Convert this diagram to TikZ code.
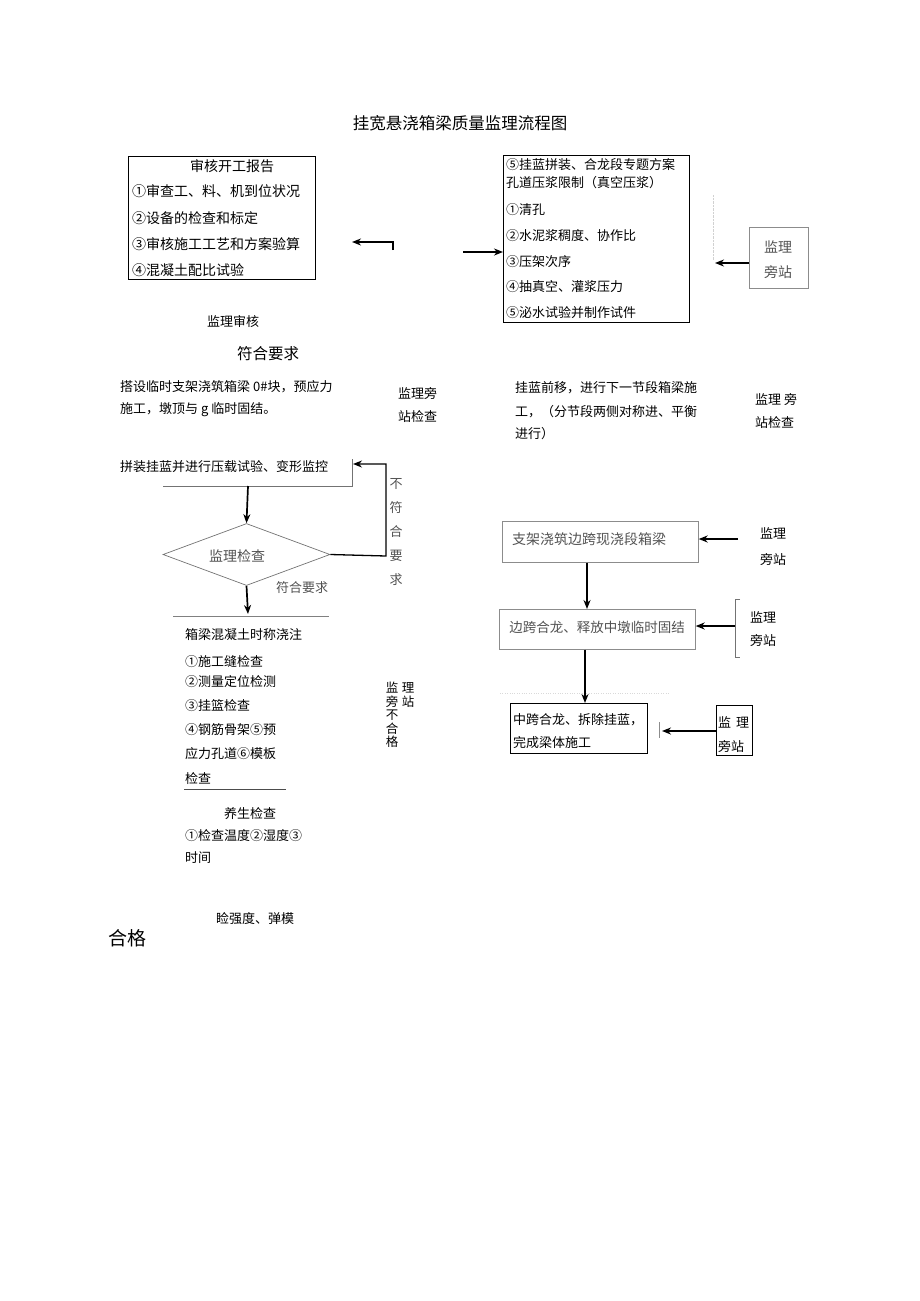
\documentclass[tikz,border=0pt]{standalone}
\usepackage{fontspec}
\setmainfont{Noto Sans CJK SC}
\usetikzlibrary{arrows.meta,shapes.geometric,positioning}

\begin{document}
\begin{tikzpicture}[x=1pt, y=-1pt,
    txt/.style={inner sep=0pt, anchor=west, font=\fontsize{13}{15}\selectfont},
    ctxt/.style={txt, anchor=center},
    frame/.style={draw, line width=0.7pt, inner sep=0pt, anchor=north west},
    gframe/.style={frame, draw=black!45},
    grey/.style={text=black!68},
    arrow/.style={-{Stealth[length=9pt,width=7pt]}, line width=1.7pt}
]
\useasboundingbox (0,0) rectangle (920,1301);

% Title
\node[ctxt, font=\fontsize{16.5}{18}\selectfont] (title) at (460,123) {挂宽悬浇箱梁质量监理流程图};

% Report box
\node[frame, minimum width=187pt, minimum height=123pt] (report) at (128,156) {};
\node[ctxt, font=\fontsize{14}{16}\selectfont] (reporthd) at (232,166) {审核开工报告};
\node[txt, font=\fontsize{14}{16}\selectfont] (r1) at (132,191) {①审查工、料、机到位状况};
\node[txt, font=\fontsize{14}{16}\selectfont] (r2) at (132,218) {②设备的检查和标定};
\node[txt, font=\fontsize{14}{16}\selectfont] (r3) at (132,244) {③审核施工工艺和方案验算};
\node[txt, font=\fontsize{14}{16}\selectfont] (r4) at (132,270) {④混凝土配比试验};
\node[ctxt] (audit) at (233,322) {监理审核};

\coordinate (backs) at (393,250);
\coordinate (backe) at (352,242);
\draw[arrow] (backs) |- (backe);

% Grouting box
\node[frame, minimum width=186pt, minimum height=167pt] (grout) at (503,155) {};
\node[txt] (g0) at (506,165) {⑤挂蓝拼装、合龙段专题方案};
\node[txt] (g1) at (506,183) {孔道压浆限制（真空压浆）};
\node[txt] (g2) at (506,210) {①清孔};
\node[txt] (g3) at (506,236) {②水泥浆稠度、协作比};
\node[txt] (g4) at (506,262) {③压架次序};
\node[txt] (g5) at (506,287) {④抽真空、灌浆压力};
\node[txt] (g6) at (506,313) {⑤泌水试验并制作试件};

\coordinate (ins) at (463,252);
\draw[arrow] (ins) -- (ins -| grout.west);

\coordinate (fa) at (713,195);
\coordinate (fb) at (713,260);
\draw[black!18, densely dotted] (fa) -- (fb);

\node[gframe, minimum width=59pt, minimum height=61pt] (sup1) at (749,227) {};
\node[ctxt, grey, font=\fontsize{14}{16}\selectfont] (sup1a) at (778,247) {监理};
\node[ctxt, grey, font=\fontsize{14}{16}\selectfont] (sup1b) at (778,272) {旁站};
\coordinate (sup1e) at (715,263);
\draw[arrow] (sup1.west |- sup1e) -- (sup1e);

% Middle texts
\node[ctxt, font=\fontsize{15.5}{17}\selectfont] (okA) at (268,354) {符合要求};
\node[txt] (zero1) at (120,387) {搭设临时支架浇筑箱梁 0\#块，预应力};
\node[txt] (zero2) at (120,410) {施工，墩顶与 g 临时固结。};
\node[txt] (insp1) at (398,393) {监理旁};
\node[txt] (insp2) at (398,417) {站检查};
\node[txt] (move1) at (515,388) {挂蓝前移，进行下一节段箱梁施};
\node[txt] (move2) at (515,412) {工，（分节段两侧对称进、平衡};
\node[txt] (move3) at (515,434) {进行）};
\node[txt] (insp3) at (755,399) {监理 旁};
\node[txt] (insp4) at (755,423) {站检查};

% Hanging basket test and check
\node[txt] (load) at (120,467) {拼装挂蓝并进行压载试验、变形监控};
\coordinate (la) at (163,486);
\coordinate (lb) at (352,486);
\coordinate (lc) at (352,459);
\draw[black!55, line width=0.7pt] (la) -- (lb) -- (lc);

\node[draw, black!55, line width=0.7pt, diamond, inner sep=0pt,
      minimum width=167pt, minimum height=62pt] (check) at (246.5,554.5) {};
\node[ctxt, grey, font=\fontsize{14}{16}\selectfont] (checktx) at (237,556) {监理检查};
\coordinate (loadout) at (248,486);
\draw[arrow] (loadout) -- (check.north);

\coordinate (retA) at (386,556);
\coordinate (retB) at (353,464);
\draw[arrow, line width=1.3pt] (check.east) -- (retA) |- (retB);
\node[ctxt, grey, align=center, font=\fontsize{13}{24}\selectfont] (fail) at (396,532)
    {不\\符\\合\\要\\求};
\node[ctxt, grey] (okB) at (302,588) {符合要求};

\coordinate (castin) at (248,614);
\draw[arrow] (check.south) -- (castin);
\coordinate (ca) at (173,616);
\coordinate (cb) at (329,616);
\draw[black!50, line width=0.8pt] (ca) -- (cb);

% Casting items
\node[txt] (cast) at (185,635) {箱梁混凝土时称浇注};
\node[txt] (c1) at (185,662) {①施工缝检查};
\node[txt] (c2) at (185,682) {②测量定位检测};
\node[txt] (c3) at (185,706) {③挂篮检查};
\node[txt] (c4) at (185,730) {④钢筋骨架⑤预};
\node[txt] (c5) at (185,754) {应力孔道⑥模板};
\node[txt] (c6) at (185,778) {检查};
\coordinate (ua) at (184,789);
\coordinate (ub) at (286,789);
\draw[black!70, line width=0.8pt] (ua) -- (ub);

\node[ctxt] (cure) at (250,814) {养生检查};
\node[txt] (cure1) at (185,836) {①检查温度②湿度③};
\node[txt] (cure2) at (185,858) {时间};

\node[ctxt, align=center, font=\fontsize{12.5}{13.5}\selectfont] (nok1) at (392,715)
    {监\\旁\\不\\合\\格};
\node[ctxt, align=center, font=\fontsize{12.5}{13.5}\selectfont] (nok2) at (408,695)
    {理\\站};

\node[ctxt] (strength) at (255,919) {睑强度、弹模};
\node[txt, font=\fontsize{19}{21}\selectfont] (pass) at (108,938) {合格};

% Side span chain
\node[gframe, minimum width=196pt, minimum height=41pt] (side) at (502,521) {};
\node[ctxt, grey, font=\fontsize{14}{16}\selectfont] (sidetx) at (589,539) {支架浇筑边跨现浇段箱梁};
\coordinate (sides) at (738,539);
\draw[arrow] (sides) -- (side.east |- sides);
\node[ctxt] (sup2a) at (773,533) {监理};
\node[ctxt] (sup2b) at (773,559) {旁站};

\node[gframe, minimum width=196pt, minimum height=40pt] (close) at (499,609) {};
\node[ctxt, grey, font=\fontsize{13.5}{16}\selectfont] (closetx) at (597,627) {边跨合龙、释放中墩临时固结};
\draw[arrow] (side.south -| 587,0) -- (close.north -| 587,0);

\coordinate (bra) at (740,599);
\coordinate (brb) at (735,599);
\coordinate (brc) at (735,657);
\coordinate (brd) at (740,657);
\draw[black!55, line width=0.8pt] (bra) -- (brb) -- (brc) -- (brd);
\coordinate (brm) at (735,626);
\draw[arrow] (brm) -- (close.east |- brm);
\node[ctxt] (sup3a) at (763,617) {监理};
\node[ctxt] (sup3b) at (763,640) {旁站};

\coordinate (da) at (500,693);
\coordinate (db) at (670,693);
\draw[black!15, dotted] (da) -- (db);

\node[frame, minimum width=137pt, minimum height=50pt] (mid) at (510,703) {};
\node[txt] (mid1) at (513,720) {中跨合龙、拆除挂蓝，};
\node[txt] (mid2) at (513,743) {完成梁体施工};
\draw[arrow] (close.south -| 585,0) -- (mid.north -| 585,0);

\node[frame, minimum width=36pt, minimum height=50pt] (sup4) at (716,705) {};
\node[txt] (sup4a) at (718,722) {监\hspace{5pt}理};
\node[txt] (sup4b) at (718,746) {旁站};
\coordinate (tka) at (659,722);
\coordinate (tkb) at (659,738);
\draw[black!45, line width=0.8pt] (tka) -- (tkb);
\coordinate (sup4e) at (662,731);
\draw[arrow] (sup4.west |- sup4e) -- (sup4e);

\end{tikzpicture}
\end{document}
